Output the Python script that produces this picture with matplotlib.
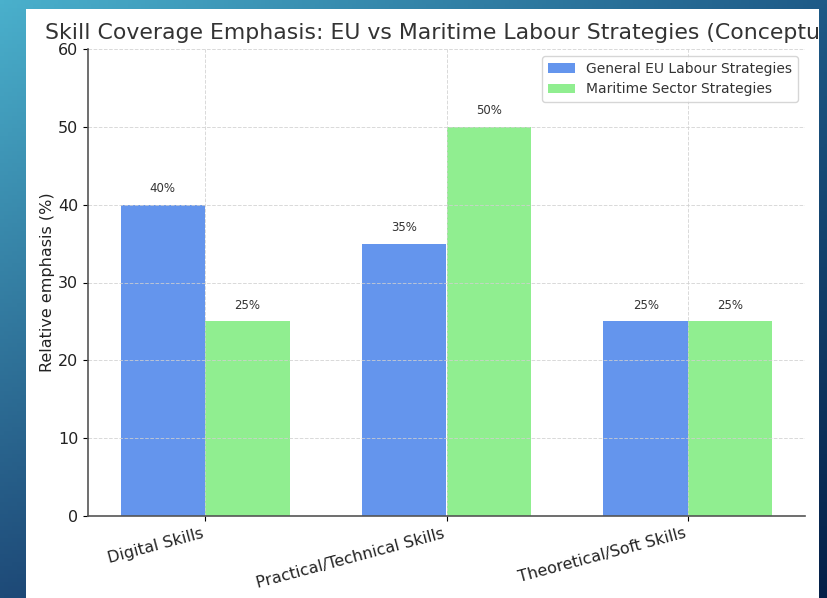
import numpy as np
import matplotlib
matplotlib.use('Agg')
import matplotlib.pyplot as plt
from matplotlib.patches import Rectangle

plt.rcParams['font.family'] = ['DejaVu Sans']

# skill categories and relative emphasis per strategy group
categories = ['Digital Skills', 'Practical/Technical Skills', 'Theoretical/Soft Skills']
eu_general = [40, 35, 25]
maritime = [25, 50, 25]
series_names = ['General EU Labour Strategies', 'Maritime Sector Strategies']

fig = plt.figure(figsize=(8.28, 5.98), dpi=100)

# slide-style gradient behind the chart
bg = fig.add_axes([0, 0, 1, 1], zorder=-10)
bg.axis('off')
tl = np.array([74, 176, 204]) / 255
tr = np.array([30, 90, 135]) / 255
bl = np.array([30, 74, 120]) / 255
br = np.array([5, 32, 72]) / 255
u = np.linspace(0, 1, 200)[None, :, None]
v = np.linspace(0, 1, 150)[:, None, None]
grad = (1 - v) * ((1 - u) * tl + u * tr) + v * ((1 - u) * bl + u * br)
bg.imshow(grad, aspect='auto', extent=[0, 1, 0, 1])
bg.set_xlim(0, 1)
bg.set_ylim(0, 1)

# white card holding the chart
card = Rectangle((26 / 828, 0), (819 - 26) / 828, 1 - 9 / 598,
                 transform=fig.transFigure, facecolor='white', edgecolor='none', zorder=-5)
fig.patches.append(card)

ax = fig.add_axes([88 / 828, 1 - 516 / 598, (805 - 88) / 828, (516 - 49) / 598])
ax.set_facecolor('none')

x = np.arange(len(categories))
w = 0.35
b1 = ax.bar(x - w / 2, eu_general, w, color='cornflowerblue', label=series_names[0])
b2 = ax.bar(x + w / 2, maritime, w, color='lightgreen', label=series_names[1])

for bars in (b1, b2):
    for r in bars:
        h = r.get_height()
        ax.annotate(f'{h:.0f}%', xy=(r.get_x() + r.get_width() / 2, h),
                    xytext=(0, 7), textcoords='offset points',
                    ha='center', va='bottom', fontsize=8.5, color='#333333')

ax.set_ylim(0, 60)
ax.set_xticks(x)
ax.set_xticklabels(categories, rotation=15, ha='right', fontsize=11.5, color='#222222')
ax.tick_params(axis='y', labelsize=11.5, labelcolor='#222222')
ax.set_ylabel('Relative emphasis (%)', fontsize=11.5, color='#222222', labelpad=2)
ax.grid(True, linestyle='--', color='#d0d0d0', linewidth=0.7, alpha=0.8)
for s in ('top', 'right'):
    ax.spines[s].set_visible(False)
for s in ('left', 'bottom'):
    ax.spines[s].set_color('#555555')
    ax.spines[s].set_linewidth(1.2)

title = ax.set_title('Skill Coverage Emphasis: EU vs Maritime Labour Strategies (Conceptual)',
                     fontsize=15.8, color='#333333', pad=7)
title.set_clip_path(card)

ax.legend(loc='upper right', fontsize=10, frameon=True, edgecolor='#cccccc',
          labelcolor='#333333')

fig.savefig('out.png', dpi=100)
